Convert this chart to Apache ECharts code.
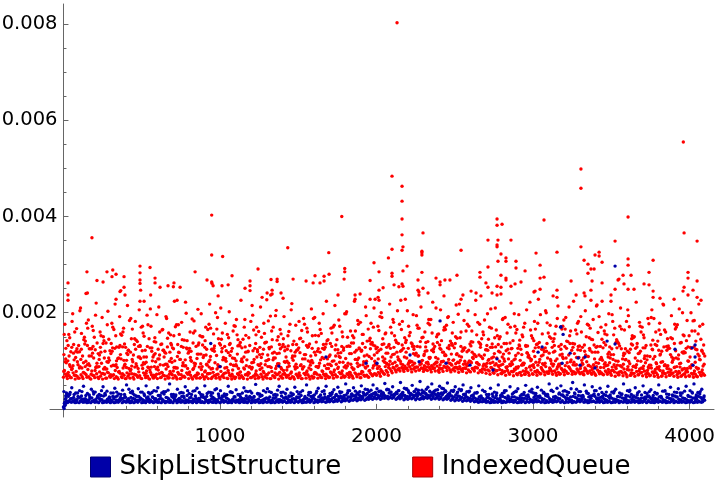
<!DOCTYPE html>
<html><head><meta charset="utf-8">
<style>html,body{margin:0;padding:0;background:#fff}#c{width:720px;height:482px}</style>
<script src="https://cdn.jsdelivr.net/npm/echarts@6/dist/echarts.min.js"></script>
</head><body><div id="c"></div>
<script>
const UNIT = 1e-5;          // values below are in units of 0.00001
const STEP = 25;            // rows hold one reading per 25 x units
const seriesNames = ['SkipListStructure', 'IndexedQueue'];
const xMajor = [1000, 2000, 3000, 4000];
const xMinor = [200,400,600,800,1200,1400,1600,1800,2200,2400,2600,2800,3200,3400,3600,3800];
const yMajor = [0.002, 0.004, 0.006, 0.008];
const yMinor = [0.0005,0.001,0.0015,0.0025,0.003,0.0035,0.0045,0.005,0.0055,0.0065,0.007,0.0075];

const blueRow1 = [
4,13,14,13,13,14,13,13,14,13,13,14,13,13,14,13,14,13,13,14,
13,13,14,13,14,13,13,14,13,13,14,13,14,13,13,14,13,13,14,13,
13,14,13,13,14,13,14,13,13,14,13,13,14,13,13,14,14,13,14,13,
14,13,14,14,13,14,15,14,15,15,16,15,17,16,18,17,19,18,20,20,
21,20,22,21,22,20,21,19,20,21,19,20,21,22,20,21,20,19,20,18,
17,18,16,17,16,15,14,15,14,13,14,14,13,14,15,14,13,14,13,14,
14,15,14,13,14,14,15,14,13,14,13,14,15,14,13,15,14,14,13,14,
13,14,13,14,13,14,14,13,14,13,14,13,14,14,13,14,13,14,14,13,
14,13,14,14];
const blueRow2 = [
8,17,15,19,16,15,18,16,15,20,16,17,15,18,19,16,15,17,16,19,
15,18,16,15,20,17,15,16,19,15,17,18,15,16,20,15,17,16,18,15,
19,16,15,17,15,20,16,18,15,16,17,15,19,16,15,18,16,17,20,16,
18,15,17,19,16,18,21,17,20,18,22,19,21,23,20,22,24,21,23,25,
24,26,23,25,27,24,25,23,26,24,27,23,25,24,26,24,25,23,24,22,
23,21,22,19,20,18,19,17,16,18,15,17,16,19,16,18,15,17,20,16,
18,16,19,17,16,18,20,17,19,16,15,18,20,16,18,16,15,17,19,16,
15,18,16,15,17,19,16,15,18,17,15,19,16,17,15,18,16,19,15,17,
18,16,15,19];
const blueRow3 = [
12,26,22,19,24,20,18,23,19,21,27,20,18,25,19,22,18,24,20,26,
19,23,18,21,28,20,24,18,22,19,26,18,23,20,19,25,21,18,24,19,
22,27,19,20,18,25,21,23,19,18,26,20,22,18,24,19,23,21,27,20,
24,19,22,26,20,25,23,21,28,24,26,22,29,25,27,31,26,29,28,32,
29,31,27,33,29,32,30,28,34,29,31,30,33,28,32,29,31,34,30,27,
29,26,30,24,27,22,25,21,24,20,23,19,26,22,20,25,21,23,27,20,
24,26,22,28,21,25,23,29,24,20,26,22,27,19,25,28,21,24,20,26,
22,19,25,21,27,20,24,18,23,26,20,22,25,19,24,21,27,20,23,19,
25,22,26,20];
const blueRow4 = [
28,34,30,26,36,28,25,31,27,38,29,25,33,27,30,26,41,32,26,35,
28,34,25,37,27,31,39,26,29,33,26,38,30,27,34,25,32,28,40,27,
26,30,36,25,29,33,27,37,26,31,28,35,25,29,39,27,32,26,30,36,
28,26,34,27,37,29,31,26,35,30,33,28,38,31,29,36,32,40,30,34,
37,33,41,35,31,38,34,42,32,36,39,33,41,35,37,32,43,36,33,39,
35,40,31,37,29,34,27,36,30,26,33,28,38,25,31,36,27,34,29,41,
32,27,35,30,39,26,33,37,29,42,31,36,28,33,27,38,30,26,35,29,
37,26,31,28,39,27,33,29,25,36,28,32,26,38,30,27,34,28,37,26,
33,29,36,27];
const blueRow5 = [
36,30,44,33,38,47,32,41,35,30,46,37,33,43,31,39,50,34,29,42,
35,48,31,38,44,33,36,52,30,41,34,46,32,37,43,30,48,35,33,42,
38,31,47,34,40,30,44,36,33,51,31,38,42,34,30,47,35,41,33,45,
31,38,50,34,29,43,36,47,32,40,45,35,52,38,44,33,48,41,36,50,
42,37,53,40,46,35,55,43,38,49,41,57,36,45,52,39,47,42,54,38,
46,41,50,36,44,33,48,39,30,43,35,50,32,38,46,34,42,30,49,37,
33,45,39,31,52,36,43,48,38,34,55,41,36,50,32,46,38,43,30,47,
35,41,33,52,38,30,44,36,48,32,40,34,50,37,31,45,35,42,33,47,
38,52,34,41];
const blueRow6 = [
10,15,16,14,17,15,14,16,15,17,14,15,16,14,17,15,16,14,15,17,
14,16,15,17,14,16,15,14,17,16,15,14,16,17,15,14,16,15,14,17,
15,16,14,17,16,15,14,16,15,17,14,16,15,14,17,15,16,14,15,17,
16,14,15,17,15,16,16,15,17,16,18,17,19,18,20,19,21,20,22,22,
23,22,24,23,24,22,23,21,22,23,22,21,23,24,22,23,22,21,22,20,
19,20,18,19,18,16,15,16,15,14,15,16,14,15,16,15,14,16,15,16,
15,17,15,14,16,15,17,15,14,16,15,16,17,15,14,16,15,16,14,15,
14,16,15,16,14,15,16,14,16,15,14,15,16,15,14,16,15,14,16,14,
15,14,16,15];
const blueRow7 = [
16,21,18,24,20,17,22,18,26,19,16,23,21,17,20,24,17,22,18,21,
17,20,24,18,22,16,21,25,17,20,23,18,16,22,19,24,17,21,16,23,
18,22,17,25,19,16,21,24,17,20,18,23,16,22,19,17,25,18,21,23,
17,22,19,24,18,21,25,20,23,19,26,22,25,28,24,26,29,24,27,30,
27,30,26,29,31,27,29,26,30,28,32,26,29,28,31,27,30,26,28,25,
27,24,26,22,24,20,23,19,22,18,21,17,24,20,18,23,19,22,25,18,
21,24,20,26,19,23,21,26,22,18,24,20,25,17,22,26,19,23,18,24,
20,17,23,19,25,18,22,16,21,24,18,20,23,17,22,19,25,18,21,17,
23,20,24,18];
const blueRow8 = [
22,30,24,33,27,21,29,36,23,28,32,22,26,35,24,30,21,37,27,23,
31,25,34,21,28,36,23,30,26,22,33,28,24,38,22,29,26,34,21,31,
27,23,35,25,30,22,37,26,24,32,28,21,36,23,29,34,22,27,31,25,
35,22,29,24,33,27,38,25,31,28,36,26,33,30,37,29,34,32,39,31,
36,33,40,35,30,38,33,41,31,36,34,39,32,37,35,40,33,38,31,36,
33,38,29,35,28,33,26,36,24,31,28,23,34,27,25,37,22,30,26,35,
28,24,33,27,38,23,31,29,36,25,33,28,24,37,26,31,23,34,28,22,
33,26,30,23,36,25,29,22,34,27,24,31,26,37,23,29,25,33,22,28,
35,25,31,24];
const blueScatter = [[941,136],[1000,88],[2406,183],[2214,112],[2272,98],[1933,95],[2003,95],[1677,108],[1376,89],[2444,95],[2597,91],[3176,170],[3192,155],[3237,116],[3288,106],[3332,108],[3186,95],[3300,91],[3473,141],[3524,135],[3524,297],[3178,171],[3907,124],[4035,133],[4016,127],[4035,108],[4022,91],[3032,118],[3058,129],[2770,104],[2744,81],[3396,85],[4,1],[6,6],[9,14],[12,20],[15,27],[19,33]];

const redRow1 = [
66,63,65,62,64,63,66,62,65,63,62,64,66,63,62,65,63,64,62,66,
63,65,62,64,63,66,62,65,64,62,63,66,63,62,64,65,62,63,66,64,
62,65,63,62,66,64,63,62,65,63,66,62,64,63,65,62,64,66,63,62,
65,63,64,62,66,64,65,63,66,64,67,65,68,66,64,67,65,68,66,69,
70,68,72,70,75,77,79,78,80,77,79,81,78,80,77,79,76,78,80,77,
79,76,78,75,77,79,75,76,74,72,74,71,73,70,72,69,71,70,72,70,
72,70,73,71,74,72,70,73,71,74,72,75,73,71,74,72,70,73,71,72,
70,68,71,69,67,70,68,71,69,67,70,68,66,69,67,70,68,66,69,67,
68,66,67,69];
const redRow2 = [
72,69,75,68,71,74,67,70,73,68,72,75,69,67,74,70,68,73,71,69,
75,68,71,67,73,70,68,74,69,72,67,75,70,68,73,71,67,74,69,72,
68,75,70,67,73,69,71,74,68,70,72,67,75,69,71,68,74,70,67,72,
69,74,71,68,75,70,72,68,74,71,76,69,73,71,75,72,77,70,74,73,
76,78,80,83,85,82,86,84,88,83,87,85,82,86,84,89,83,87,85,82,
86,83,85,81,84,86,80,83,81,85,79,82,76,80,78,82,75,79,77,81,
78,76,80,77,82,79,76,81,78,83,77,80,76,82,79,77,81,75,79,77,
80,75,78,76,81,74,78,75,79,73,77,75,80,74,76,73,78,75,72,77,
74,72,76,73];
const redRow3 = [
80,76,84,78,88,75,82,79,86,77,83,76,89,80,78,85,75,82,87,77,
84,79,76,88,81,75,83,78,86,76,80,90,77,84,75,82,79,87,76,83,
78,85,75,81,89,77,83,76,86,79,82,75,88,78,84,76,80,87,77,83,
75,86,79,82,76,89,78,84,77,81,87,79,85,76,83,88,78,85,80,90,
84,79,88,92,86,90,94,89,96,91,87,95,90,93,88,97,92,89,96,91,
94,88,93,90,96,87,92,89,95,86,91,88,93,85,90,83,88,92,84,89,
86,91,83,88,85,93,87,84,90,86,92,83,89,85,91,84,88,86,93,82,
87,84,90,83,88,81,86,83,89,80,85,82,88,79,84,81,87,78,83,80,
85,79,84,81];
const redRow4 = [
96,88,102,92,85,99,90,106,87,95,83,101,91,86,104,93,84,98,89,105,
94,86,100,83,92,108,88,97,85,103,90,84,99,94,87,107,91,83,96,89,
102,86,93,105,84,98,90,87,103,92,85,100,88,106,94,83,97,89,101,86,
92,104,85,96,88,102,90,84,99,93,107,87,95,86,103,91,98,89,105,94,
88,100,93,108,97,103,92,106,99,95,110,101,96,107,93,104,98,111,95,102,
97,108,94,100,105,96,109,92,103,97,106,91,99,104,93,87,101,95,108,90,
97,103,92,106,94,100,89,105,96,102,91,107,93,98,88,104,95,101,90,106,
92,99,87,103,94,89,100,85,96,91,104,86,97,92,83,101,88,95,84,99,
90,86,102,93];
const redRow5 = [
113,100,128,107,119,96,132,110,123,103,136,98,115,126,106,129,101,118,134,108,
121,97,127,112,104,135,116,99,125,109,130,102,120,137,105,114,128,98,122,111,
133,103,117,126,100,131,108,119,96,136,113,124,101,129,106,116,134,99,121,110,
127,104,132,97,118,125,107,135,112,100,123,130,105,115,137,102,120,128,109,133,
117,124,104,131,113,138,120,108,126,135,116,129,111,140,122,107,133,118,127,114,
136,110,125,119,131,112,139,105,123,128,115,134,108,121,137,102,126,113,132,106,
120,135,110,127,116,140,104,124,130,112,136,107,122,133,109,118,128,103,138,114,
125,100,131,111,120,135,106,116,127,102,133,109,122,98,130,113,136,104,118,126,
108,129,114,122];
const redRow6 = [
126,148,134,118,157,141,125,163,137,152,120,145,170,129,156,135,122,166,143,130,
151,175,127,139,160,122,147,133,171,155,128,142,120,162,137,150,124,168,131,146,
158,121,136,173,144,127,153,132,164,119,149,138,125,170,143,156,129,161,134,122,
147,176,130,152,139,165,124,144,158,133,172,127,149,137,162,125,155,141,178,131,
163,146,128,170,152,136,182,143,159,130,168,148,138,175,125,155,142,165,132,180,
147,160,127,172,139,154,134,185,145,128,164,150,136,176,126,158,143,170,131,152,
166,138,124,179,147,156,130,172,141,162,135,182,128,150,168,133,159,145,175,129,
154,140,166,125,171,148,136,160,127,177,143,132,155,164,126,146,170,137,152,129,
162,141,172,133];
const redRow7 = [
176,155,198,167,210,149,185,172,220,160,142,203,178,152,192,168,215,146,182,206,
158,195,172,148,212,165,188,154,224,175,144,199,160,183,207,150,170,218,156,190,
145,178,202,162,154,226,186,148,195,170,212,157,183,144,205,165,192,152,219,174,
146,188,160,208,153,178,198,142,168,215,185,150,202,162,224,176,155,194,147,210,
172,190,158,218,180,204,165,228,152,196,174,212,160,186,222,150,206,170,192,158,
216,148,184,204,162,226,176,154,198,168,210,146,188,158,220,172,196,150,206,164,
182,228,156,200,174,146,214,166,190,152,224,178,160,204,148,186,216,170,156,198,
182,144,210,164,194,152,222,172,148,188,206,160,178,216,146,194,166,208,154,184,
200,162,218,176];
const redRow8 = [
68,65,70,64,67,71,63,69,66,73,64,68,71,65,67,63,72,66,69,64,
70,63,67,72,65,69,64,71,66,63,68,72,65,70,64,67,73,63,69,66,
71,64,68,63,70,66,72,65,69,64,67,71,63,68,72,65,70,64,66,69,
63,71,67,64,72,66,69,65,70,67,73,66,71,68,72,65,70,67,71,72,
73,74,76,79,81,84,82,85,83,86,81,84,87,82,85,80,84,86,81,85,
83,80,84,78,82,85,78,81,79,76,80,74,78,75,77,73,76,72,75,73,
76,73,77,74,78,75,72,77,74,79,73,76,72,78,75,73,77,72,76,74,
77,71,75,72,70,74,71,76,72,69,74,71,68,73,70,75,71,68,73,69,
72,68,71,70];
const redRow9 = [
78,73,82,70,85,76,92,72,80,88,74,83,71,90,77,73,86,79,72,84,
91,74,81,70,87,76,93,72,79,85,71,89,75,82,70,94,77,73,84,71,
88,74,80,72,92,76,85,70,83,73,90,78,71,86,75,94,72,81,74,88,
71,83,76,91,73,86,79,72,93,77,84,74,90,76,82,95,73,87,79,85,
91,82,97,86,94,89,99,85,93,98,87,92,84,97,90,95,85,99,88,93,
86,96,84,90,98,85,93,83,88,95,82,90,80,87,93,79,85,91,78,87,
92,80,86,95,79,89,83,94,81,88,78,92,84,79,90,82,96,78,86,91,
80,87,77,93,82,75,88,79,84,74,91,78,83,75,89,76,86,74,81,78,
88,74,83,77];
const redRow10 = [
104,92,116,98,124,88,110,130,95,118,86,106,127,100,113,90,122,103,94,132,
108,87,120,98,112,91,129,105,86,117,96,125,101,89,114,133,93,109,120,87,
126,99,111,90,131,104,118,88,97,123,107,92,128,102,115,86,121,95,110,134,
90,113,100,126,88,118,105,93,130,110,97,122,89,115,103,127,92,112,135,99,
121,108,95,126,114,102,133,118,97,124,110,100,129,105,119,138,98,113,125,101,
115,130,99,122,107,96,128,112,101,135,94,118,104,124,98,111,131,92,116,103,
127,97,112,136,100,120,93,108,126,98,115,130,95,110,122,89,118,104,133,96,
113,91,125,102,117,88,129,99,110,85,123,94,114,90,131,97,106,87,119,100,
92,124,103,115];
const redRow11 = [
142,119,160,132,110,178,125,149,115,190,137,121,165,105,153,128,184,112,140,170,
122,146,108,196,134,118,158,127,175,103,143,116,187,130,152,111,165,124,200,136,
107,155,120,172,133,145,102,182,126,161,114,139,193,118,150,129,108,176,141,123,
163,113,135,188,120,157,128,109,170,144,117,198,131,152,122,180,110,166,138,125,
192,135,116,158,143,176,126,204,137,112,168,149,121,186,130,156,118,174,141,127,
197,120,162,135,114,180,146,123,170,108,152,129,190,116,142,165,124,178,111,147,
134,196,119,158,128,172,112,185,140,122,164,131,106,176,145,118,192,127,154,113,
168,136,104,182,124,150,115,170,132,109,188,141,120,160,126,105,175,138,117,152,
183,123,145,110];
const redRow12 = [
155,132,182,120,204,144,168,125,195,112,150,175,136,218,128,160,116,188,146,130,
172,108,208,140,124,164,192,118,152,134,180,222,126,158,114,198,142,176,122,166,
210,130,148,106,186,138,170,120,215,154,128,178,112,162,194,134,146,124,206,118,
182,140,168,110,190,152,126,224,136,174,116,160,198,130,148,184,122,212,142,170,
128,200,156,134,186,118,226,148,172,130,194,140,114,178,158,210,126,164,190,136,
150,218,122,176,140,196,112,160,132,208,148,120,186,136,170,198,116,154,130,222,
142,178,124,204,150,118,188,134,166,212,128,156,192,120,174,144,214,130,162,108,
196,138,172,116,206,146,126,180,154,110,190,134,164,218,122,148,176,112,200,142,
128,184,156,120];
const redRow13 = [
98,110,90,125,103,135,94,116,88,128,106,97,120,92,132,101,113,89,124,108,
96,130,87,115,104,122,93,136,100,118,90,127,107,95,133,88,112,102,126,92,
119,105,134,91,114,99,129,87,121,108,94,137,103,116,89,125,98,131,106,93,
117,88,128,101,112,95,134,104,90,123,109,97,130,93,118,106,136,99,125,112,
104,134,116,99,128,108,122,138,100,115,130,94,120,107,135,97,124,111,103,132,
113,101,127,96,118,109,136,93,122,106,129,99,114,88,125,104,133,95,117,100,
109,128,94,120,103,132,90,114,106,136,97,123,101,112,126,92,130,107,96,118,
103,127,89,115,99,133,92,120,105,87,124,96,112,129,90,108,121,94,116,84,
126,97,110,89];
const redTop = [[2131,803],[3960,555],[2099,484],[947,403],[182,356],[1778,400],[1433,335],[947,320],[1017,317],[1695,325],[2076,314],[1984,304],[489,297],[315,289],[553,294],[489,283],[336,280],[150,285],[278,285],[310,275],[387,275],[2016,285],[1243,291],[841,285],[1797,292],[1797,285],[1697,280],[1793,270],[1077,277],[1607,277],[1665,276],[585,272],[489,268],[489,261],[585,262],[214,267],[253,264],[29,262],[917,268],[947,264],[949,261],[956,256],[706,262],[702,254],[668,256],[617,253],[745,253],[387,253],[1013,256],[1052,258],[1192,266],[1192,256],[1160,251],[1192,246],[1326,269],[1365,270],[1365,265],[1467,270],[1550,266],[1595,262],[1639,262],[1665,266],[1959,267],[2042,252],[2016,247],[493,247],[366,246],[361,244],[144,240],[153,241],[29,237],[393,237],[557,237],[1301,241],[1333,247],[1333,239],[1390,241],[1324,237],[988,235],[1269,232],[1403,230],[1299,227],[1754,237],[1863,237],[1895,239],[1863,228],[1991,228],[1959,228],[2010,232],[2016,226],[336,228],[29,226],[489,224],[515,224],[726,226],
[2163,463],[2163,432],[2163,395],[2163,362],[2099,332],[2169,337],[2163,330],[2297,366],[2290,328],[2290,325],[2290,320],[2540,330],[2770,395],[2770,382],[2802,384],[2712,351],[2776,351],[2859,351],[2770,341],[2770,337],[3070,393],[3306,499],[3306,459],[3607,399],[3524,349],[3306,337],[3153,326],[3019,324],[3965,366],[4048,349],[2795,322],[2827,314],[2827,307],[2776,307],[2891,307],[2891,293],[2712,295],[2949,287],[3045,299],[3396,320],[3422,326],[3422,318],[3326,309],[3441,305],[3351,301],[3370,291],[3390,291],[3351,282],[3607,312],[3607,299],[3767,309],[2195,297],[2169,287],[2290,284],[2099,282],[2099,276],[2661,284],[2661,274],[2795,278],[2827,272],[2827,268],[2514,278],[2380,272],[2406,264],[2406,258],[2437,268],[2469,268],[2265,268],[3045,272],[3070,274],[3377,266],[3243,266],[3441,262],[3575,278],[3626,278],[3741,284],[3990,284],[3990,272],[4048,266],[3709,260],[3741,258],[3581,260],[3543,268],[3549,270],[2112,258],[2163,260],[2169,255],[2143,254],[2699,262],[2712,253],[2770,255],[2795,253],[2885,260],[2859,255],[2923,264],[3045,249],[3153,247],[3013,245],[3006,243],[3524,249],[3645,249],[3607,249],[3370,247],[3767,245],[3965,253],[3958,245],[4022,247],[2265,247],[2271,243],[2271,237],[2297,251],[2329,241],[2604,245],[2636,241],[2667,235],[2738,241],[2770,237],[2795,239],[3326,241],[3332,235],[3498,237],[3767,232],[3811,230],[3901,228],[3990,237],[4048,232],[4073,226],[2431,235],[2540,228],[2552,237],[3275,237],[3128,235],[3153,232],[3370,226],[3498,224],[3441,224]];

function rowPoints(row, offset) {
  return row.map((v, i) => [offset + i * STEP, v * UNIT]);
}
function scatterPoints(list) {
  return list.map(p => [p[0], p[1] * UNIT]);
}
const bluePoints = [].concat(
  rowPoints(blueRow1, 0), rowPoints(blueRow2, 12), rowPoints(blueRow3, 6),
  rowPoints(blueRow4, 18), rowPoints(blueRow5, 3), rowPoints(blueRow6, 9),
  rowPoints(blueRow7, 21), rowPoints(blueRow8, 15), scatterPoints(blueScatter));
const redPoints = [].concat(
  rowPoints(redRow1, 0), rowPoints(redRow2, 12), rowPoints(redRow3, 6),
  rowPoints(redRow4, 18), rowPoints(redRow5, 3), rowPoints(redRow6, 15),
  rowPoints(redRow7, 9), rowPoints(redRow8, 20), rowPoints(redRow9, 2),
  rowPoints(redRow10, 14), rowPoints(redRow11, 22), rowPoints(redRow12, 5),
  rowPoints(redRow13, 11), scatterPoints(redTop));

const FONT = '"DejaVu Sans"';
const AXIS = '#666666';
const xBase = {type:'value', min:-86, max:4156, splitLine:{show:false}};
const yBase = {type:'value', min:-0.000168, max:0.00842, splitLine:{show:false}};
const chart = echarts.init(document.getElementById('c'), null, {renderer:'canvas'});
chart.setOption({
  animation:false,
  backgroundColor:'#ffffff',
  grid:{left:50, right:6, top:4, bottom:65, containLabel:false, outerBoundsMode:'none'},
  legend:{
    left:90, top:454, padding:0, itemWidth:20, itemHeight:20, itemGap:71,
    icon:'rect',
    textStyle:{fontFamily:FONT, fontSize:26, color:'#000', padding:[0,0,0,4]},
    data:[
      {name:seriesNames[0], itemStyle:{color:'#0000a8', borderColor:'#000070', borderWidth:1, opacity:1}},
      {name:seriesNames[1], itemStyle:{color:'#ff0000', borderColor:'#aa0000', borderWidth:1, opacity:1}}
    ]
  },
  xAxis:[
    Object.assign({}, xBase, {
      axisLine:{onZero:true, lineStyle:{color:AXIS, width:1}},
      axisTick:{show:true, inside:true, length:5, customValues:xMajor, lineStyle:{color:AXIS}},
      axisLabel:{show:true, customValues:xMajor, margin:10, fontFamily:FONT, fontSize:20, color:'#000',
        formatter:v => String(v)}
    }),
    Object.assign({}, xBase, {
      position:'bottom',
      axisLine:{show:false, onZero:true},
      axisTick:{show:true, inside:true, length:3, customValues:xMinor, lineStyle:{color:AXIS}},
      axisLabel:{show:false}
    })
  ],
  yAxis:[
    Object.assign({}, yBase, {
      axisLine:{show:true, onZero:true, lineStyle:{color:AXIS, width:1}},
      axisTick:{show:true, inside:true, length:5, customValues:yMajor, lineStyle:{color:AXIS}},
      axisLabel:{show:true, customValues:yMajor, margin:-7.5, fontFamily:FONT, fontSize:19.5, color:'#000',
        formatter:v => v.toFixed(3)}
    }),
    Object.assign({}, yBase, {
      position:'left',
      axisLine:{show:false, onZero:true},
      axisTick:{show:true, inside:true, length:3, customValues:yMinor, lineStyle:{color:AXIS}},
      axisLabel:{show:false}
    })
  ],
  series:[
    {name:seriesNames[0], type:'scatter', z:3, xAxisIndex:0, yAxisIndex:0, symbol:'circle', symbolSize:3.4,
     itemStyle:{color:'#0000a8', opacity:1}, data:bluePoints, clip:false},
    {name:seriesNames[1], type:'scatter', z:2, xAxisIndex:0, yAxisIndex:0, symbol:'circle', symbolSize:3.4,
     itemStyle:{color:'#ff0000', opacity:1}, data:redPoints, clip:false}
  ]
});
</script></body></html>
